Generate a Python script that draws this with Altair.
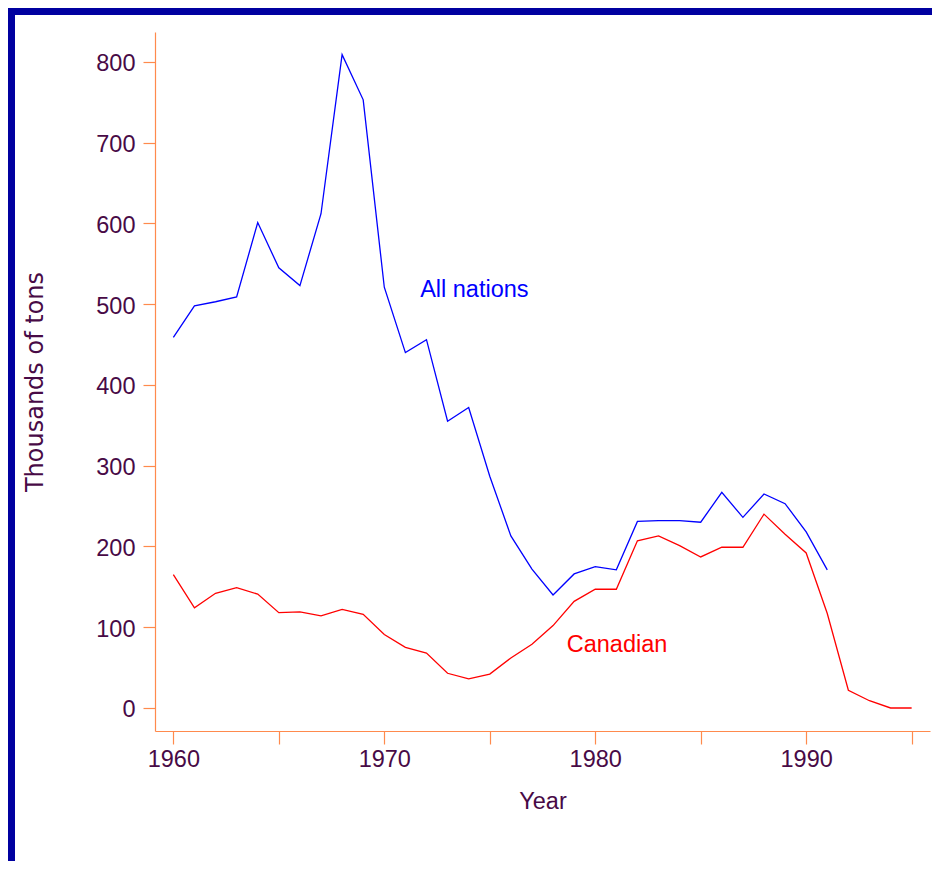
import altair as alt
import pandas as pd

# ---- data ----
years_all = list(range(1960, 1992))
all_nations = [459, 498, 503, 509, 601, 545, 523, 612, 809, 753,
               521, 440, 456, 355, 372, 287, 213, 172, 140, 166,
               175, 171, 231, 232, 232, 230, 267, 236, 265, 253,
               218, 171]
years_can = list(range(1960, 1996))
canadian = [165, 124, 142, 149, 141, 118, 119, 114, 122, 116,
            91, 75, 68, 43, 36, 42, 62, 79, 102, 132,
            147, 147, 207, 213, 201, 187, 199, 199, 240, 215,
            192, 117, 22, 9, 0, 0]
x_ticks = [1960, 1965, 1970, 1975, 1980, 1985, 1990, 1995]
y_ticks = [0, 100, 200, 300, 400, 500, 600, 700, 800]
label_text = ["All nations", "Canadian"]
label_year = [1971.7, 1978.65]
label_value = [509, 69]
label_color = ["#0000ff", "#ff0000"]

W, H = 775, 699
PAD_L, PAD_T, PAD_R, PAD_B = 147, 24, 2, 130
FONT = "Liberation Sans"
FS = 23.5
AXIS_C = "#ff8a4d"
TEXT_C = "#480a46"
NAVY = "#0000a0"

df_all = pd.DataFrame({"Year": years_all, "Tons": all_nations})
df_can = pd.DataFrame({"Year": years_can, "Tons": canadian})
df_lab = pd.DataFrame({"text": label_text, "Year": label_year,
                       "Tons": label_value, "c": label_color})

xs = alt.Scale(domain=[1959.13, 1995.87], nice=False, zero=False)
ys = alt.Scale(domain=[-28.5, 837], nice=False, zero=False)

x_axis = alt.Axis(values=x_ticks, format="d", grid=False,
                  labelExpr="datum.value % 10 == 0 ? datum.label : ''",
                  title="Year", titleFont=FONT, titleFontSize=FS,
                  titleFontWeight="normal", titleColor=TEXT_C,
                  titleX=W / 2, titleY=77, titleBaseline="alphabetic",
                  titleAlign="center",
                  labelFont=FONT, labelFontSize=FS, labelColor=TEXT_C,
                  labelPadding=3, tickSize=13, tickColor=AXIS_C,
                  domainColor=AXIS_C, tickWidth=1.2, domainWidth=1.2,
                  labelFlush=False, labelOverlap=False)
y_axis = alt.Axis(values=y_ticks, grid=False, title="Thousands of tons",
                  titleFont="DejaVu Sans", titleFontSize=24,
                  titleFontWeight="normal", titleColor=TEXT_C,
                  titleX=-113, titleY=H / 2, titleAngle=-90,
                  titleBaseline="alphabetic", titleAlign="center",
                  labelFont=FONT, labelFontSize=FS, labelColor=TEXT_C,
                  labelPadding=8, labelOffset=2, tickSize=12, tickColor=AXIS_C,
                  domainColor=AXIS_C, tickWidth=1.2, domainWidth=1.2,
                  labelFlush=False, labelOverlap=False)

line_all = alt.Chart(df_all).mark_line(color="#0000ff", strokeWidth=1.3).encode(
    x=alt.X("Year:Q", scale=xs, axis=x_axis),
    y=alt.Y("Tons:Q", scale=ys, axis=y_axis),
)
line_can = alt.Chart(df_can).mark_line(color="#ff0000", strokeWidth=1.3).encode(
    x=alt.X("Year:Q", scale=xs),
    y=alt.Y("Tons:Q", scale=ys),
)
labels = alt.Chart(df_lab).mark_text(
    font=FONT, fontSize=FS, align="left", baseline="alphabetic"
).encode(
    x=alt.X("Year:Q", scale=xs),
    y=alt.Y("Tons:Q", scale=ys),
    text="text:N",
    color=alt.Color("c:N", scale=None),
)

border_left = alt.Chart(df_lab).mark_rect(color=NAVY, clip=False).encode(
    x=alt.value(-PAD_L), x2=alt.value(-PAD_L + 7),
    y=alt.value(-PAD_T), y2=alt.value(H + PAD_B),
)
border_top = alt.Chart(df_lab).mark_rect(color=NAVY, clip=False).encode(
    x=alt.value(-PAD_L), x2=alt.value(W + PAD_R),
    y=alt.value(-PAD_T), y2=alt.value(-PAD_T + 7),
)

chart = alt.layer(line_all, line_can, labels, border_left, border_top).properties(
    width=W, height=H,
    padding={"left": PAD_L, "top": PAD_T, "right": PAD_R, "bottom": PAD_B},
    autosize="none",
).configure(background="white").configure_view(stroke=None, strokeWidth=0)

chart.save("out.html", embed_options={"renderer": "svg", "actions": False})
